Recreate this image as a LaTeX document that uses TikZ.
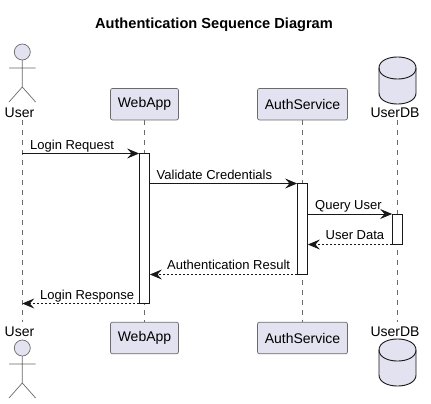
\documentclass[tikz,border=0pt]{standalone}
\usepackage{fontspec}
\setmainfont{Liberation Sans}
\usetikzlibrary{arrows.meta}
\definecolor{pfill}{HTML}{E2E2F0}
\definecolor{pline}{HTML}{6B6B6B}
\definecolor{ink}{HTML}{181818}
\tikzset{
  x=1pt,y=-1pt,
  pbox/.style={draw=pline,fill=pfill,line width=.7pt,rounded corners=2pt,minimum height=31.5pt,inner sep=0pt,font=\fontsize{14}{16}\selectfont,text=black},
  lifeline/.style={draw=pline,line width=.5pt,dash pattern=on 5pt off 5pt},
  actbar/.style={draw=ink,fill=white,line width=.8pt,minimum width=10pt,inner sep=0pt},
  msg/.style={draw=ink,line width=.8pt,-{Stealth[length=12pt,width=10pt,inset=4.5pt]}},
  ret/.style={msg,dash pattern=on 2pt off 2pt,-{Stealth[length=12pt,width=10pt,inset=4.5pt,fill=ink]}},
  lbl/.style={font=\fontsize{13}{15}\selectfont,inner sep=0pt,text=black},
  alabel/.style={font=\fontsize{14}{16}\selectfont,inner sep=0pt,text=black},
  stick/.style={draw=pline,line width=.7pt},
  cyl/.style={draw=ink,fill=pfill,line width=.9pt},
}
\newcommand{\stickman}[1]{%
  \begin{scope}[yshift=#1]
  \draw[stick,fill=pfill] (22.3,0) circle[radius=8];
  \draw[stick] (22.3,8) -- (22.3,35) (9,16) -- (35.6,16) (9,50) -- (22.3,35) -- (35.6,50);
  \end{scope}}
\newcommand{\dbcyl}[1]{%
  \begin{scope}[yshift=#1]
  \draw[cyl] (379,11) .. controls (379,-3.7) and (416,-3.7) .. (416,11) -- (416,36) .. controls (416,50.7) and (379,50.7) .. (379,36) -- cycle;
  \draw[cyl,fill=none] (379,11) .. controls (379,25.7) and (416,25.7) .. (416,11);
  \end{scope}}
\begin{document}
\begin{tikzpicture}
\useasboundingbox[fill=white] (0,0) rectangle (431,404);
\node[font=\bfseries\fontsize{14.6}{16}\selectfont,inner sep=0pt] (title) at (214,25) {Authentication Sequence Diagram};

% heads
\coordinate (uT) at (22.3,120);
\coordinate (uB) at (22.3,322);
\node[pbox,minimum width=68pt] (webT) at (144.5,104.2) {WebApp};
\node[pbox,minimum width=90pt] (authT) at (302.5,104.2) {AuthService};
\node[pbox,minimum width=68pt] (webB) at (144.5,338) {WebApp};
\node[pbox,minimum width=90pt] (authB) at (302.5,338) {AuthService};
\coordinate (dT) at (397.5,120);
\coordinate (dB) at (397.5,322);

% lifelines
\draw[lifeline] (uT) -- (uB);
\draw[lifeline] (webT) -- (webB);
\draw[lifeline] (authT) -- (authB);
\draw[lifeline] (dT) -- (dB);

% actors and databases
\stickman{-52pt}
\stickman{-348pt}
\dbcyl{-57pt}
\dbcyl{-339pt}
\node[alabel] (userT) at (19.5,113) {User};
\node[alabel] (userB) at (19.5,332) {User};
\node[alabel] (dbT) at (395,113) {UserDB};
\node[alabel] (dbB) at (395,332) {UserDB};

% activation bars
\node[actbar,minimum height=149.5pt] (actW) at (144.5,228.3) {};
\node[actbar,minimum height=90.5pt] (actA) at (302.5,228.8) {};
\node[actbar,minimum height=30.5pt] (actD) at (397.5,229.2) {};

% message rows
\coordinate (m1) at (0,153.5);
\coordinate (m2) at (0,183.5);
\coordinate (m3) at (0,214);
\coordinate (m4) at (0,244.5);
\coordinate (m5) at (0,274.5);
\coordinate (m6) at (0,303.5);

\draw[msg] (uT |- m1) -- (actW.west |- m1);
\draw[msg] (actW.east |- m2) -- (actA.west |- m2);
\draw[msg] (actA.east |- m3) -- (actD.west |- m3);
\draw[ret] (actD.west |- m4) -- (actA.east |- m4);
\draw[ret] (actA.west |- m5) -- (actW.east |- m5);
\draw[ret] (actW.west |- m6) -- (uT |- m6);

% labels
\node[lbl,anchor=base west] (l1) at (30,149) {Login Request};
\node[lbl,anchor=base west] (l2) at (156.5,179) {Validate Credentials};
\node[lbl,anchor=base west] (l3) at (315,209) {Query User};
\node[lbl,anchor=base west] (l4) at (325.5,239.5) {User Data};
\node[lbl,anchor=base west] (l5) at (167,269.5) {Authentication Result};
\node[lbl,anchor=base west] (l6) at (40,299) {Login Response};
\end{tikzpicture}
\end{document}
